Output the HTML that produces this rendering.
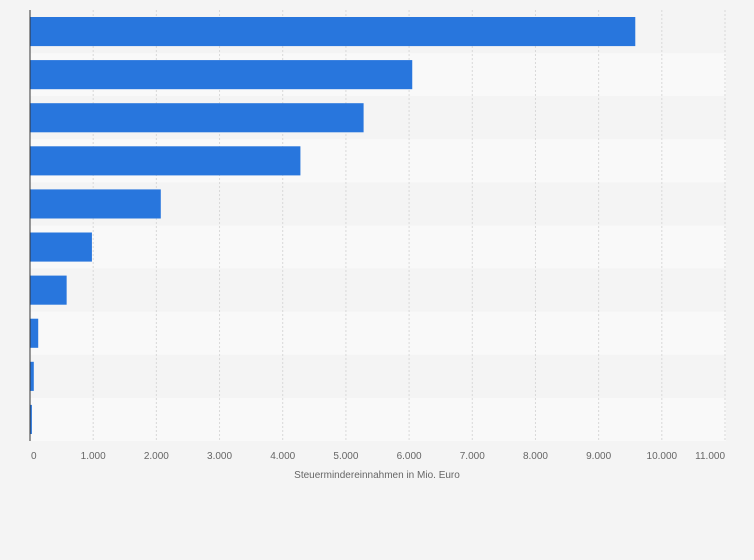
<!DOCTYPE html>
<html><head><meta charset="utf-8"><style>
body{margin:0;background:#f4f4f4;font-family:"Liberation Sans",sans-serif;}
svg{display:block}
</style></head><body>
<svg id="c" width="754" height="560"></svg>
<script>
const categories=["K1","K2","K3","K4","K5","K6","K7","K8","K9","K10"];
const values=[9580,6050,5280,4280,2070,980,580,130,60,30];
const ticks=[0,1000,2000,3000,4000,5000,6000,7000,8000,9000,10000,11000];
const tickLabels=["0","1.000","2.000","3.000","4.000","5.000","6.000","7.000","8.000","9.000","10.000","11.000"];
const svg=document.getElementById('c');
const NS='http://www.w3.org/2000/svg';
const x0=30,x1=725,yTop=10,yBottom=441,maxV=11000;
const xs=v=>x0+(v/maxV)*(x1-x0);
const rowH=(yBottom-yTop)/categories.length;
function mk(t,a){const e=document.createElementNS(NS,t);for(const k in a)e.setAttribute(k,a[k]);svg.appendChild(e);return e;}
categories.forEach((c,i)=>{
  const r=mk('rect',{x:x0,y:yTop+i*rowH,width:x1-x0+1,height:rowH,fill:i%2?'#f9f9f9':'#f4f4f4'});
  
  
});
ticks.forEach((t,i)=>{
  if(i>0){const g=mk('line',{x1:xs(t),x2:xs(t),y1:yTop,y2:yBottom,stroke:'#d8d8d8','stroke-dasharray':'2,2'});
  
  }
  const anchor=i==0?'start':(i==ticks.length-1?'end':'middle');
  const tx=mk('text',{x:i==0?xs(t)+1:xs(t),y:459,'font-size':'10','fill':'#666','text-anchor':anchor});
  tx.textContent=tickLabels[i];
  
  
});
values.forEach((v,i)=>{
  const b=mk('rect',{x:x0,y:yTop+i*rowH+7,width:xs(v)-x0,height:rowH-14,fill:'#2876dd'});
  
  
});
const ax=mk('line',{x1:x0,x2:x0,y1:yTop,y2:yBottom,stroke:'#333','stroke-width':1});


const tt=mk('text',{x:377,y:478,'font-size':'10','fill':'#666','text-anchor':'middle'});
tt.textContent='Steuermindereinnahmen in Mio. Euro';


</script>
</body></html>
